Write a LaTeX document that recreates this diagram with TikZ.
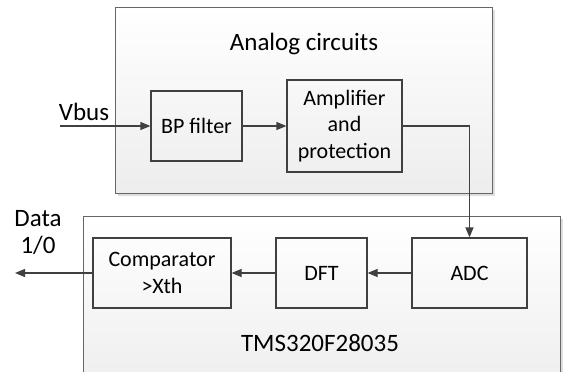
\documentclass[tikz,border=0pt]{standalone}
\usepackage{fontspec}
\setmainfont{Carlito}
\usetikzlibrary{arrows.meta,shadows}
\tikzset{
  group/.style={draw=black!60, line width=0.8pt, top color=white, bottom color=black!7,
    drop shadow={shadow xshift=3pt, shadow yshift=-3pt, fill=black!25, opacity=0.5},
    inner sep=0pt},
  blk/.style={draw=black!75, line width=1.2pt, align=center, inner sep=0pt,
    font=\fontsize{22}{26.5}\selectfont},
  lbl/.style={align=center, inner sep=0pt, font=\fontsize{25}{27}\selectfont},
  conn/.style={draw=black!75, line width=1.2pt, -{Triangle[length=10pt,width=8pt]}}
}
\begin{document}
\begin{tikzpicture}[x=1pt,y=-1pt]
\useasboundingbox (0,0) rectangle (571,372);
\clip (0,0) rectangle (571,372);
\fill[white] (0,0) rectangle (571,372);
% group boxes
\node[group, minimum width=377pt, minimum height=186pt] (analog) at (303.5,100) {};
\node[group, minimum width=477pt, minimum height=180pt] (tms) at (321.5,306) {};
\node[lbl] (analogtitle) at (304,44) {Analog circuits};
\node[lbl] (tmstitle) at (320,343) {TMS320F28035};
% blocks
\node[blk, minimum width=91pt, minimum height=70pt] (bp) at (196.5,126) {BP filter};
\node[blk, minimum width=115pt, minimum height=92pt] (amp) at (344.5,126) {Amplifier\\and\\protection};
\node[blk, minimum width=115pt, minimum height=70pt] (adc) at (469.5,273) {ADC};
\node[blk, minimum width=91pt, minimum height=70pt] (dft) at (321.5,273) {DFT};
\node[blk, minimum width=138pt, minimum height=70pt] (comp) at (162,273) {Comparator\\>Xth};
% io
\coordinate (vin) at (60,126);
\coordinate (dout) at (15,273);
\node[lbl] (vbus) at (84,112) {Vbus};
\node[lbl] (data) at (38,233) {Data\\1/0};
% connectors
\draw[conn] (vin) -- (bp);
\draw[conn] (bp) -- (amp);
\draw[conn] (amp.east) -| (adc.north);
\draw[conn] (adc) -- (dft);
\draw[conn] (dft) -- (comp);
\draw[conn] (comp) -- (dout);
\end{tikzpicture}
\end{document}
